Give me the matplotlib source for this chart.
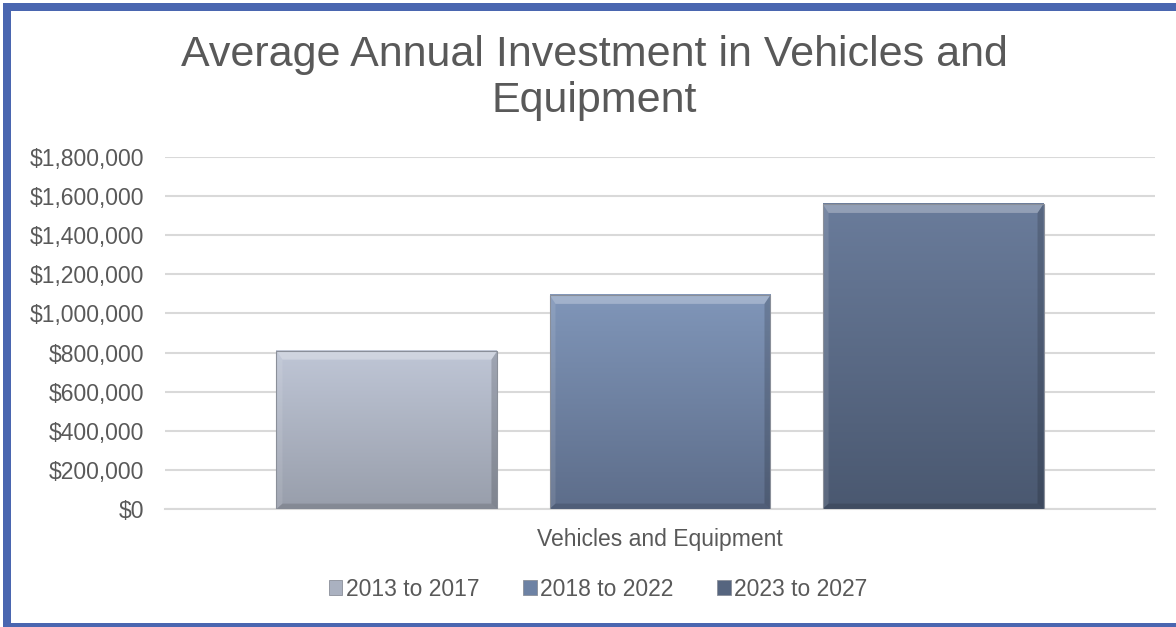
import numpy as np
import matplotlib
matplotlib.use('Agg')
import matplotlib.pyplot as plt
from matplotlib.colors import LinearSegmentedColormap
from matplotlib.patches import Rectangle, Polygon
from matplotlib.ticker import FuncFormatter

plt.rcParams['font.family'] = ['Liberation Sans', 'DejaVu Sans']

# Data
category = 'Vehicles and Equipment'
periods = ['2013 to 2017', '2018 to 2022', '2023 to 2027']
values = [810000, 1095000, 1560000]
top_colors = ['#bfc6d6', '#8096b9', '#6a7c9b']
bottom_colors = ['#989eab', '#5d6d8a', '#4a5870']
legend_colors = ['#aab1c0', '#6d82a4', '#56657f']

text_color = '#595959'
grid_color = '#d9d9d9'

fig = plt.figure(figsize=(11.76, 6.27), dpi=100)
ax = fig.add_axes([165 / 1176, 1 - 509 / 627, 990 / 1176, 352 / 627])

ymax = 1800000
bar_w = 0.2232
offsets = [-0.2758, 0.0, 0.2758]

# bevel sizes in data units (x: px/990, y: px/352*ymax)
bx = 6 / 990
by = 9 / 352 * ymax

for off, v, ct, cb in zip(offsets, values, top_colors, bottom_colors):
    x0, x1 = off - bar_w / 2, off + bar_w / 2
    cmap = LinearSegmentedColormap.from_list('g', [cb, ct])
    grad = np.linspace(0, 1, 256).reshape(-1, 1)
    ax.imshow(grad, cmap=cmap, origin='lower', aspect='auto',
              extent=(x0, x1, 0, v), zorder=3, interpolation='bilinear')
    # bevel
    ax.add_patch(Polygon([(x0, v), (x1, v), (x1 - bx, v - by), (x0 + bx, v - by)],
                         closed=True, facecolor='white', alpha=0.28, lw=0, zorder=4))
    ax.add_patch(Polygon([(x0, 0), (x0, v), (x0 + bx, v - by), (x0 + bx, by * 0.6)],
                         closed=True, facecolor='white', alpha=0.10, lw=0, zorder=4))
    ax.add_patch(Polygon([(x1, 0), (x1, v), (x1 - bx, v - by), (x1 - bx, by * 0.6)],
                         closed=True, facecolor='black', alpha=0.16, lw=0, zorder=4))
    ax.add_patch(Polygon([(x0, 0), (x1, 0), (x1 - bx, by * 0.6), (x0 + bx, by * 0.6)],
                         closed=True, facecolor='black', alpha=0.13, lw=0, zorder=4))
    ax.add_patch(Rectangle((x0, 0), bar_w, v, facecolor='none',
                           edgecolor='#8a8f99', lw=0.8, zorder=5))

ax.set_xlim(-0.5, 0.5)
ax.set_ylim(0, ymax)
ax.set_yticks(np.arange(0, ymax + 1, 200000))
ax.yaxis.set_major_formatter(FuncFormatter(lambda v, p: f'${v:,.0f}'))
ax.set_xticks([0])
ax.set_xticklabels([category])
ax.tick_params(axis='y', length=0, pad=15, labelsize=16.5, labelcolor=text_color)
ax.tick_params(axis='x', length=0, pad=14, labelsize=16.5, labelcolor=text_color)
ax.grid(axis='y', color=grid_color, lw=1.5, zorder=0)
ax.set_axisbelow(True)
for s in ['top', 'right', 'left']:
    ax.spines[s].set_visible(False)
ax.spines['bottom'].set_color(grid_color)
ax.spines['bottom'].set_linewidth(1.5)

fig.text(594 / 1176, 1 - 78 / 627, 'Average Annual Investment in Vehicles and\nEquipment',
         ha='center', va='center', fontsize=31, color=text_color, linespacing=1.22)

handles = [Rectangle((0, 0), 1, 1, facecolor=c, edgecolor='#8a8f99', lw=0.6) for c in legend_colors]
fig.legend(handles, periods, loc='center', bbox_to_anchor=(598 / 1176, 1 - 589 / 627),
           ncol=3, frameon=False, fontsize=16.5, labelcolor=text_color,
           handlelength=0.6, handleheight=0.6, handletextpad=0.15, columnspacing=1.9)

# blue frame on left, top and bottom
frame_c = '#4a66b0'
fig.patches.append(Rectangle((3 / 1176, 4 / 627), 8 / 1176, 620 / 627, transform=fig.transFigure,
                             facecolor=frame_c, lw=0, zorder=10))
fig.patches.append(Rectangle((3 / 1176, 1 - 11 / 627), 1173 / 1176, 8 / 627, transform=fig.transFigure,
                             facecolor=frame_c, lw=0, zorder=10))
fig.patches.append(Rectangle((3 / 1176, 0), 1173 / 1176, 4 / 627, transform=fig.transFigure,
                             facecolor=frame_c, lw=0, zorder=10))

fig.savefig('out.png', dpi=100)
